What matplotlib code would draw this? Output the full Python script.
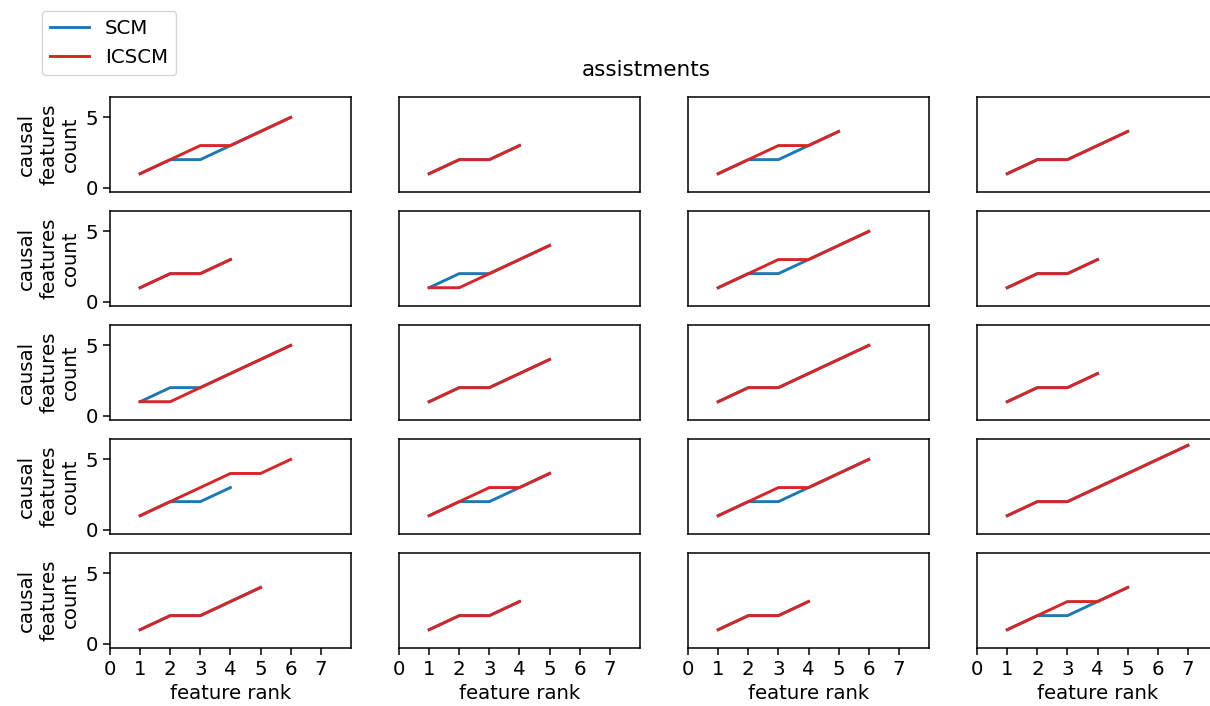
import numpy as np
import matplotlib
matplotlib.use('Agg')
import matplotlib.pyplot as plt

# causal features count per panel (x = feature rank 1..n), rows x cols = 5 x 4
scm = [
    [[1, 2, 2, 3, 4, 5], [1, 2, 2, 3], [1, 2, 2, 3, 4], [1, 2, 2, 3, 4]],
    [[1, 2, 2, 3], [1, 2, 2, 3, 4], [1, 2, 2, 3, 4, 5], [1, 2, 2, 3]],
    [[1, 2, 2, 3, 4, 5], [1, 2, 2, 3, 4], [1, 2, 2, 3, 4, 5], [1, 2, 2, 3]],
    [[1, 2, 2, 3], [1, 2, 2, 3, 4], [1, 2, 2, 3, 4, 5], [1, 2, 2, 3, 4, 5, 6]],
    [[1, 2, 2, 3, 4], [1, 2, 2, 3], [1, 2, 2, 3], [1, 2, 2, 3, 4]],
]
icscm = [
    [[1, 2, 3, 3, 4, 5], [1, 2, 2, 3], [1, 2, 3, 3, 4], [1, 2, 2, 3, 4]],
    [[1, 2, 2, 3], [1, 1, 2, 3, 4], [1, 2, 3, 3, 4, 5], [1, 2, 2, 3]],
    [[1, 1, 2, 3, 4, 5], [1, 2, 2, 3, 4], [1, 2, 2, 3, 4, 5], [1, 2, 2, 3]],
    [[1, 2, 3, 4, 4, 5], [1, 2, 3, 3, 4], [1, 2, 3, 3, 4, 5], [1, 2, 2, 3, 4, 5, 6]],
    [[1, 2, 2, 3, 4], [1, 2, 2, 3], [1, 2, 2, 3], [1, 2, 3, 3, 4]],
]
xticks = [0, 1, 2, 3, 4, 5, 6, 7]
yticks = [0, 5]

plt.rcParams.update({
    'font.size': 14.2,
    'axes.linewidth': 1.1,
    'xtick.major.size': 5,
    'ytick.major.size': 5,
    'xtick.major.width': 1.1,
    'ytick.major.width': 1.1,
})

fig, axes = plt.subplots(5, 4, figsize=(12.1, 7.06), dpi=100, sharex=True, sharey=True)
fig.subplots_adjust(left=110 / 1210, right=1218 / 1210, top=1 - 97 / 706,
                    bottom=1 - 648 / 706, wspace=0.2, hspace=0.2)

for r in range(5):
    for c in range(4):
        ax = axes[r, c]
        s = scm[r][c]
        ic = icscm[r][c]
        l1, = ax.plot(np.arange(1, len(s) + 1), s, color='#1f77b4', lw=2.1, label='SCM')
        l2, = ax.plot(np.arange(1, len(ic) + 1), ic, color='#d62728', lw=2.1, label='ICSCM')
        ax.set_xlim(0, 8)
        ax.set_ylim(-0.3, 6.45)
        ax.set_xticks(xticks)
        ax.set_yticks(yticks)
        if c == 0:
            ax.set_ylabel('causal\nfeatures\ncount')
        else:
            ax.tick_params(axis='y', left=False, labelleft=False)
        if r == 4:
            ax.set_xlabel('feature rank')
        else:
            ax.tick_params(axis='x', bottom=False, labelbottom=False)

fig.text(646 / 1210, 1 - 70 / 706, 'assistments', ha='center', va='center', fontsize=15.5)
fig.legend([l1, l2], ['SCM', 'ICSCM'], loc='upper left',
           bbox_to_anchor=(32 / 1210, 1 - 1 / 706))

fig.savefig('out.png', dpi=100)
